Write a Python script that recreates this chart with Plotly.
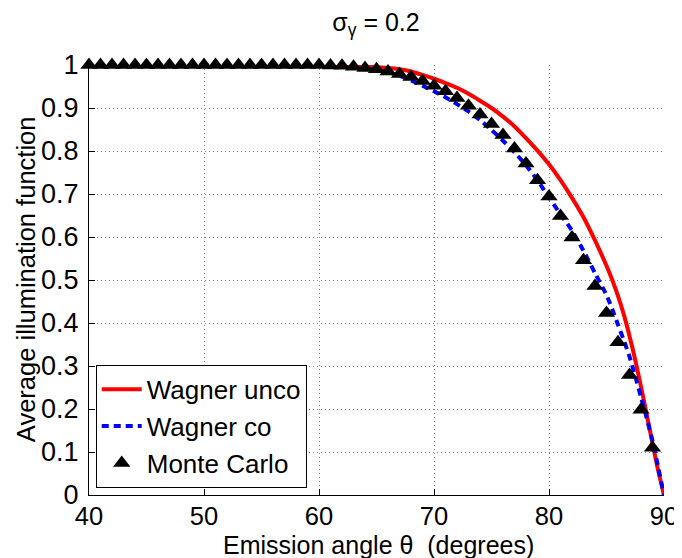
import plotly.graph_objects as go

# ---- data ----
theta_curve = [40, 45, 50, 55, 58, 60, 62, 64, 66, 67, 68, 69, 70, 71, 72, 73, 74, 75,
               76, 77, 78, 79, 80, 81, 82, 83, 84, 85, 85.5, 86, 86.5, 87, 87.5, 88,
               88.5, 89, 89.5, 90]
wagner_unco = [1.0, 1.0, 1.0, 1.0, 1.0, 0.999, 0.998, 0.996, 0.993, 0.990, 0.985, 0.977,
               0.968, 0.958, 0.947, 0.933, 0.917, 0.900, 0.880, 0.857, 0.830, 0.801,
               0.769, 0.732, 0.691, 0.646, 0.592, 0.533, 0.500, 0.463, 0.420, 0.370,
               0.314, 0.252, 0.187, 0.120, 0.056, 0.0]
wagner_co = [1.0, 1.0, 1.0, 1.0, 0.999, 0.998, 0.996, 0.992, 0.983, 0.975, 0.964, 0.952,
             0.939, 0.925, 0.909, 0.892, 0.872, 0.849, 0.824, 0.797, 0.767, 0.732,
             0.692, 0.653, 0.615, 0.568, 0.516, 0.465, 0.432, 0.396, 0.360, 0.322,
             0.276, 0.228, 0.178, 0.126, 0.064, 0.0]

theta_mc = list(range(40, 90))
monte_carlo = [1.0] * 21 + [0.999, 0.998, 0.996, 0.993, 0.990, 0.985, 0.979, 0.972,
                            0.963, 0.952, 0.939, 0.923, 0.905, 0.885, 0.863, 0.837,
                            0.806, 0.771, 0.732, 0.694, 0.649, 0.599, 0.546, 0.486,
                            0.423, 0.355, 0.279, 0.198, 0.110]

x_ticks = [40, 50, 60, 70, 80, 90]
x_tick_labels = ["40", "50", "60", "70", "80", "90"]
y_ticks = [0, 0.1, 0.2, 0.3, 0.4, 0.5, 0.6, 0.7, 0.8, 0.9, 1.0]
y_tick_labels = ["0", "0.1", "0.2", "0.3", "0.4", "0.5", "0.6", "0.7", "0.8", "0.9", "1"]

FONT = "Liberation Sans, Arial, sans-serif"

fig = go.Figure()
fig.add_trace(go.Scatter(x=theta_curve, y=wagner_unco, mode="lines", name="Wagner unco",
                         line=dict(color="#ff0000", width=4, shape="spline", smoothing=0.6)))
fig.add_trace(go.Scatter(x=theta_curve, y=wagner_co, mode="lines", name="Wagner co",
                         line=dict(color="#0000ff", width=4, dash="7px,5px",
                                   shape="spline", smoothing=0.6)))
fig.add_trace(go.Scatter(x=theta_mc, y=monte_carlo, mode="markers", name="Monte Carlo",
                         marker=dict(symbol="triangle-up", size=15, color="black",
                                     line=dict(width=0)),
                         cliponaxis=False))

axis_common = dict(showline=True, linecolor="black", linewidth=1.2, ticks="inside",
                   ticklen=6, tickcolor="black", showgrid=True, gridcolor="#808080",
                   griddash="1px,3px", gridwidth=1, zeroline=False, layer="below traces",
                   automargin=False)

fig.update_xaxes(range=[40, 90], tickvals=x_ticks, ticktext=x_tick_labels,
                 ticklabelstandoff=-2, tickfont=dict(family=FONT, size=25.5, color="black"),
                 **axis_common)
fig.update_yaxes(range=[0, 1], tickvals=y_ticks, ticktext=y_tick_labels,
                 ticklabelstandoff=4, tickfont=dict(family=FONT, size=27, color="black"),
                 **axis_common)

# the page body has an 8px default margin, so the figure is sized/offset accordingly
fig.update_layout(
    width=674, height=550,
    margin=dict(l=81, r=18, t=57, b=63, autoexpand=False),
    paper_bgcolor="white", plot_bgcolor="white",
    font=dict(family=FONT, color="black"),
    title=dict(text="σ<sub>γ</sub> = 0.2", x=368 / 674, xanchor="center",
               y=1 - 14 / 550, yanchor="middle", yref="container",
               font=dict(family=FONT, size=25, color="black")),
    showlegend=True,
    legend=dict(x=0.0117, y=0.0165, xanchor="left", yanchor="bottom",
                bgcolor="white", bordercolor="black", borderwidth=1,
                font=dict(family=FONT, size=26, color="black"),
                itemwidth=40, tracegroupgap=0),
    annotations=[
        dict(text="Emission angle θ  (degrees)", x=0.503, y=0, xref="paper", yref="paper",
             xanchor="center", yanchor="middle", yshift=-50, showarrow=False,
             font=dict(family=FONT, size=25, color="black")),
        dict(text="Average illumination function", x=0, y=0.502, xref="paper",
             yref="paper", xanchor="center", yanchor="middle", xshift=-63,
             textangle=-90, showarrow=False,
             font=dict(family=FONT, size=25.5, color="black")),
    ],
)

fig.write_html("out.html")
